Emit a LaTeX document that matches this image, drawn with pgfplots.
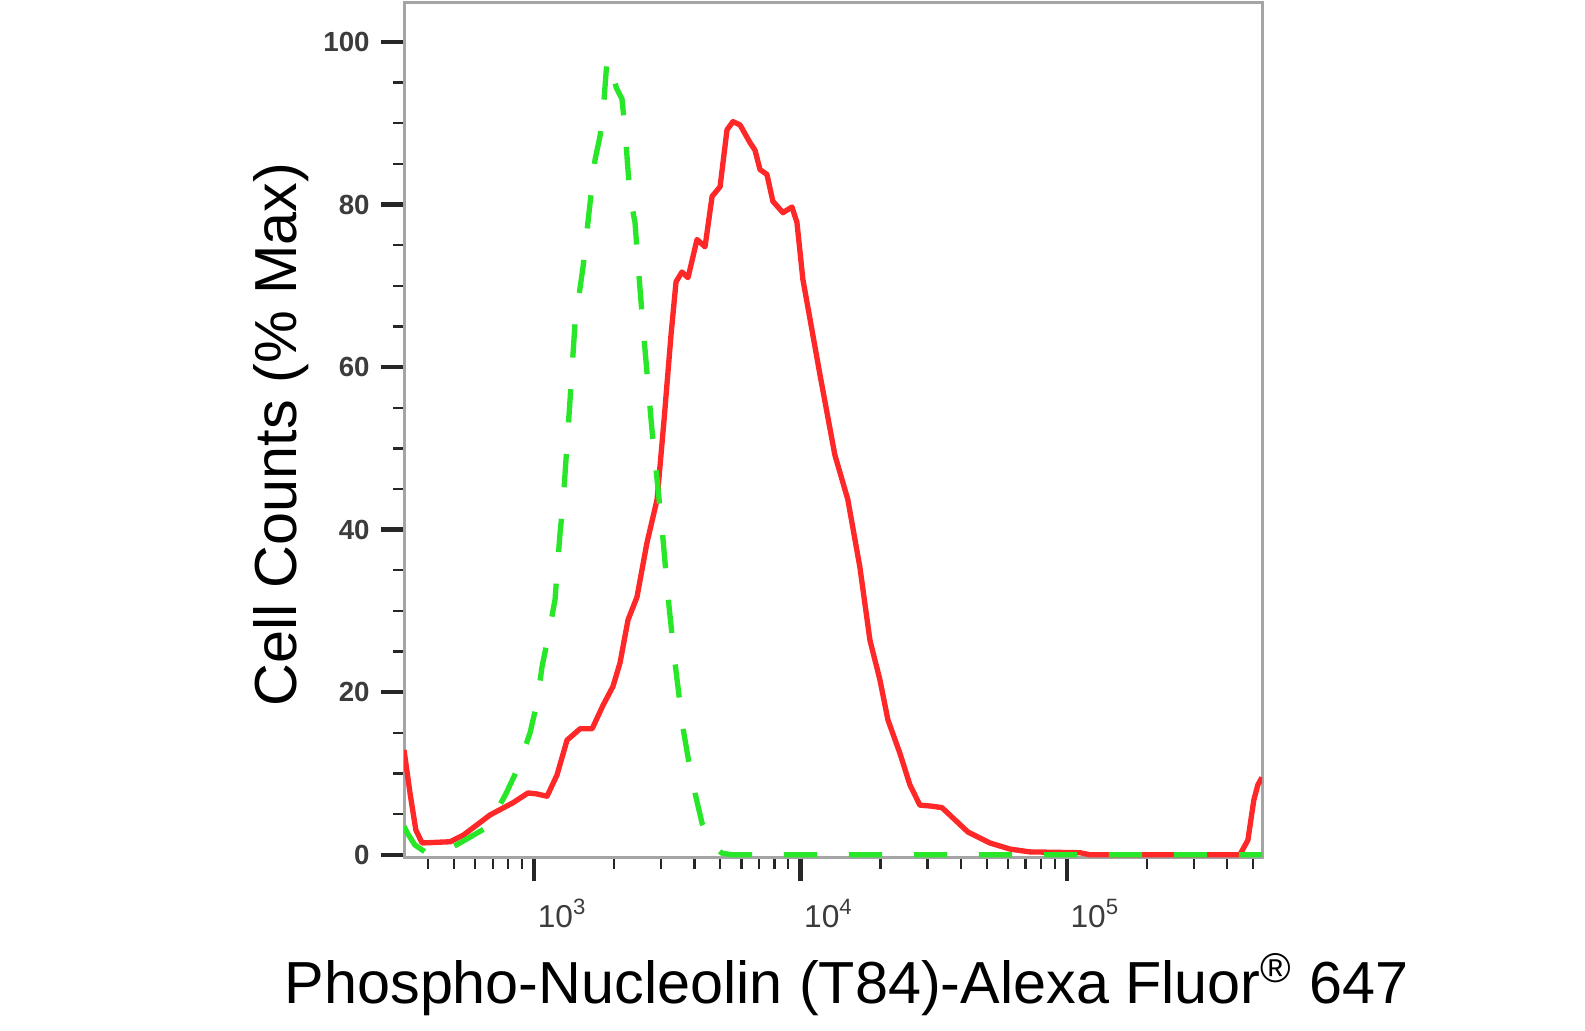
\documentclass[border=0pt]{standalone}
\usepackage{fontspec}
\setmainfont{Liberation Sans}
\usepackage{pgfplots}
\pgfplotsset{compat=1.18}
\definecolor{fcred}{RGB}{255,40,40}
\definecolor{fcgreen}{RGB}{40,230,40}
\definecolor{boxgray}{RGB}{165,165,165}
\definecolor{ticklab}{RGB}{60,60,60}

\begin{document}
\begin{tikzpicture}
\begin{axis}[
  scale only axis,
  width=257.4pt, height=256.5pt,
  xmode=log,
  xmin=325, xmax=5.4e5,
  ymin=-0.4, ymax=104.8,
  axis line style={boxgray, line width=0.9pt},
  tick align=outside,
  tick pos=left,
  major tick length=6.8pt,
  minor tick length=3.3pt,
  every tick/.style={black!85, line width=0.7pt},
  every major tick/.append style={line width=1.3pt},
  xtick={1000,10000,100000},
  xticklabels={10\textsuperscript{3},10\textsuperscript{4},10\textsuperscript{5}},
  minor xtick={400,500,600,700,800,900,2000,3000,4000,5000,6000,7000,8000,9000,
    20000,30000,40000,50000,60000,70000,80000,90000,200000,300000,400000,500000},
  ytick={0,20,40,60,80,100},
  yticklabels={0,20,40,60,80,100},
  minor y tick num=3,
  ticklabel style={text=ticklab},
  xticklabel style={font=\fontsize{9.5}{11}\selectfont, anchor=north, xshift=8.5pt, yshift=-2pt},
  yticklabel style={font=\fontsize{8.3}{9}\selectfont\bfseries, anchor=east},
  xlabel={Phospho-Nucleolin (T84)-Alexa Fluor\textsuperscript{\textregistered} 647},
  ylabel={Cell Counts (\% Max)},
  label style={font=\fontsize{17.8}{20}\selectfont, text=black},
  xlabel style={at={(axis description cs:0.516,-0.17)}, anchor=base},
  ylabel style={at={(axis description cs:-0.125,0.495)}, anchor=base, rotate=0},
]
\addplot[fcred, line width=1.6pt, line join=round] coordinates {
(325,12.9)(343,7.4)(360,3.05)(380,1.45)(484,1.6)(542,2.4)(684,4.9)(834,6.4)
(949,7.6)(1017,7.5)(1119,7.2)(1219,9.8)(1330,14.1)(1489,15.5)(1652,15.5)
(1816,18.4)(1978,20.7)(2102,23.6)(2253,28.9)(2434,31.7)(2654,38.4)(2896,43.7)
(3076,53.5)(3268,64.0)(3412,70.5)(3591,71.7)(3784,71.0)(4090,75.7)(4383,74.8)
(4659,81.0)(4992,82.2)(5300,89.2)(5580,90.2)(5930,89.8)(6470,87.6)(6750,86.7)
(7050,84.3)(7485,83.7)(7880,80.4)(8595,79.0)(9290,79.7)(9700,77.8)(10210,70.8)
(11040,64.6)(11830,59.1)(13460,49.2)(15060,43.7)(16710,35.4)(18230,26.4)
(19880,21.5)(21290,16.6)(23610,12.5)(25750,8.6)(28070,6.1)(30620,6.0)
(33960,5.8)(38000,4.3)(42500,2.8)(51400,1.45)(61100,0.7)(72600,0.35)
(112000,0.25)(122000,0)(446000,0)(478000,1.8)(503000,6.7)(521000,8.6)(540000,9.5)
};
\addplot[fcgreen, line width=1.6pt, dash pattern=on 10pt off 9.5pt] coordinates {
(325,3.5)(334,2.7)(357,1.2)(396,0.2)(440,0.3)(484,0.8)(537,1.6)(667,3.4)
(779,7.3)(871,10.7)(966,15.0)(1026,18.7)(1071,23.1)(1129,26.8)(1199,31.4)
(1220,34.8)(1252,39.6)(1285,43.3)(1365,56.0)(1425,65.4)(1527,72.3)(1623,80.2)
(1694,85.5)(1771,88.5)(1832,93.0)(1879,97.8)(1950,96.5)(2040,94.3)(2138,93.0)
(2195,89.2)(2291,81.0)(2393,77.8)(2455,72.8)(2564,65.0)(2772,52.2)(3023,40.2)
(3184,31.7)(3382,23.6)(3623,15.6)(3784,12.0)(4019,7.6)(4270,3.9)(4659,1.2)
(5070,0.2)(5500,0)(540000,0)
};
\end{axis}
\pgfresetboundingbox
\path[use as bounding box] ([xshift=-121.2pt,yshift=-51.9pt]current axis.south west)
  rectangle ([xshift=354.3pt,yshift=257.4pt]current axis.south west);
\end{tikzpicture}
\end{document}
